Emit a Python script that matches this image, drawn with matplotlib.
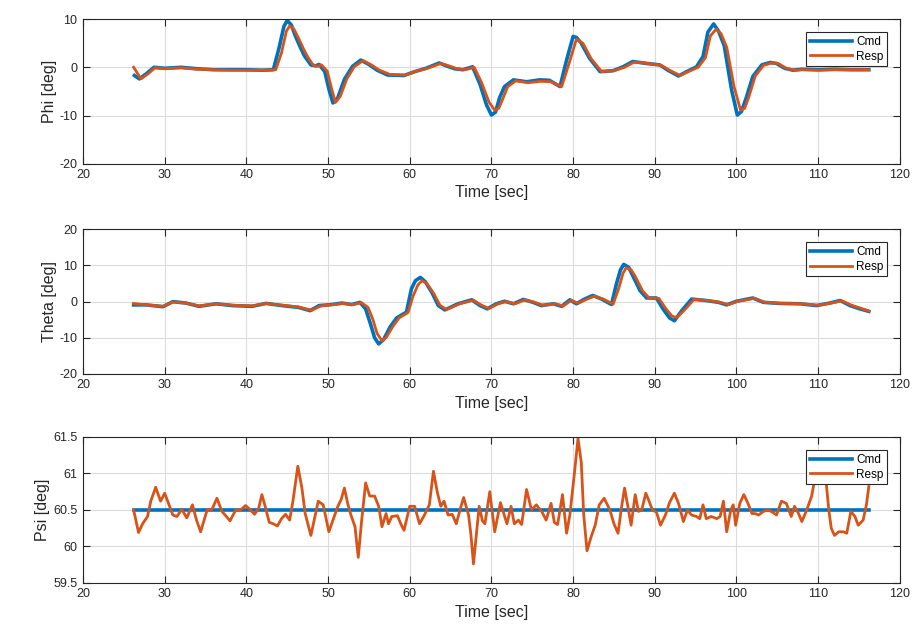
import matplotlib
matplotlib.use('Agg')
import matplotlib.pyplot as plt

plt.rcParams['font.family'] = ['Liberation Sans', 'DejaVu Sans']
plt.rcParams['axes.unicode_minus'] = False

# ---------------------------------------------------------------------------
# Data (time in sec, angles in deg)
# ---------------------------------------------------------------------------

# Phi (roll)
phi_cmd_t = [26.3, 26.9, 27.7, 28.7, 30, 32, 34, 36, 38, 40, 42, 43.3, 44.0, 44.6, 45.0,
             45.5, 46.0, 46.6, 47.1, 47.9, 48.5, 48.9, 49.6, 50.1, 50.6, 51.2, 52.0, 53.0,
             54.0, 55.0, 56.0, 57.3, 59.3, 60.6, 62.0, 63.6, 64.5, 65.5, 66.5, 67.7, 68.6,
             69.4, 70.0, 70.5, 71.0, 71.6, 72.7, 74.3, 75.9, 77.1, 78.4, 79.2, 80.0, 80.4,
             81.0, 82.0, 83.3, 84.9, 86.1, 87.3, 89.0, 90.6, 91.6, 92.9, 93.9, 95.1, 95.9,
             96.5, 97.2, 97.8, 98.5, 99.4, 100.1, 100.6, 101.2, 102.0, 103.1, 104.1, 104.9,
             105.9, 106.9, 108, 110, 112, 114, 116.2]
phi_cmd = [-1.7, -2.4, -1.4, 0, -0.2, 0, -0.3, -0.5, -0.5, -0.5, -0.6, -0.5, 4.0, 8.5, 9.7,
           8.8, 6.5, 4.2, 2.4, 0.5, 0.3, 0.6, -0.9, -4.5, -7.4, -6.3, -2.5, 0.2,
           1.5, 0.6, -0.6, -1.6, -1.7, -0.9, -0.2, 0.9, 0.3, -0.3, -0.5, 0.1, -3.5,
           -7.8, -9.9, -9.3, -6.3, -4.0, -2.6, -3.0, -2.6, -2.7, -4.0, 1.5, 6.4, 6.2,
           5.0, 1.9, -0.9, -0.7, 0.1, 1.2, 0.8, 0.5, -0.6, -1.8, -0.9, 0.1, 2.2,
           7.3, 9.0, 7.5, 4.5, -4.7, -9.9, -9.2, -6.3, -1.9, 0.5, 1.0, 0.8,
           -0.2, -0.6, -0.4, -0.5, -0.4, -0.5, -0.5]

phi_resp_t = [26.2, 27.1, 28.0, 28.8, 30, 32, 34, 36, 38, 40, 42, 43.6, 44.3, 44.9, 45.3,
              45.8, 46.4, 47.0, 47.5, 48.2, 48.8, 49.2, 49.9, 50.4, 50.9, 51.5, 52.3, 53.2,
              54.3, 55.3, 56.3, 57.6, 59.5, 60.8, 62.2, 63.8, 64.8, 65.8, 66.8, 67.9, 68.8,
              69.7, 70.4, 70.9, 71.4, 72.0, 73.0, 74.5, 76.0, 77.3, 78.6, 79.5, 80.4, 81.2,
              82.2, 83.5, 85.0, 86.3, 87.5, 89.2, 90.8, 91.8, 93.1, 94.1, 95.3, 96.2, 96.8,
              97.5, 98.1, 98.8, 99.7, 100.5, 101.0, 101.5, 102.3, 103.3, 104.3, 105.1, 106.1,
              107.1, 108, 110, 112, 114, 116.2]
phi_resp = [0.0, -2.4, -1.3, -0.1, -0.3, -0.1, -0.4, -0.5, -0.6, -0.6, -0.6, -0.5, 3.0, 7.5, 8.6,
            8.0, 6.0, 3.8, 2.2, 0.4, 0.2, 0.5, -0.8, -4.2, -7.3, -6.0, -2.4, 0.1,
            1.4, 0.5, -0.6, -1.5, -1.6, -0.8, -0.2, 0.8, 0.3, -0.3, -0.5, 0.0, -3.2,
            -7.2, -8.9, -8.5, -6.5, -4.0, -2.8, -3.2, -2.9, -3.0, -4.0, 0.8, 5.8, 5.0,
            1.8, -0.9, -0.7, 0.0, 1.1, 0.8, 0.4, -0.6, -1.7, -0.9, 0.0, 2.0, 6.5,
            7.9, 7.0, 4.2, -4.0, -8.9, -8.5, -6.2, -1.8, 0.4, 0.9, 0.8, -0.2,
            -0.6, -0.5, -0.6, -0.5, -0.5, -0.5]

# Theta (pitch)
theta_cmd_t = [26.2, 27.7, 29.8, 31.0, 32.6, 34.2, 36.3, 38.3, 40.7, 42.4, 44.4, 46.4, 47.8,
               48.9, 50.5, 51.7, 52.9, 53.9, 54.6, 55.2, 55.7, 56.2, 56.8, 57.6, 58.4, 59.6,
               60.2, 60.7, 61.3, 61.9, 62.7, 63.5, 64.3, 65.9, 67.6, 68.6, 69.5, 70.6, 71.6,
               72.7, 73.9, 75.1, 76.1, 77.6, 78.6, 79.6, 80.4, 81.4, 82.4, 83.5, 84.7, 85.3,
               85.8, 86.2, 86.8, 87.3, 88.2, 89.0, 90.2, 91.0, 91.8, 92.4, 93.3, 94.5, 96.3,
               97.8, 98.8, 100.0, 102.0, 103.3, 105.3, 107.8, 109.8, 111.4, 112.7, 113.9,
               115.1, 116.2]
theta_cmd = [-0.9, -0.9, -1.4, 0, -0.4, -1.3, -0.6, -1.1, -1.3, -0.5, -1.1, -1.6, -2.5,
             -1.1, -0.8, -0.4, -0.8, -0.2, -2.0, -6.2, -10.0, -11.7, -10.5, -7.0, -4.5, -2.9,
             3.5, 5.8, 6.7, 5.5, 2.6, -1.1, -2.3, -0.6, 0.5, -1.1, -2.0, -0.6, 0.1,
             -0.6, 0.6, -0.2, -1.1, -0.6, -1.3, 0.5, -0.6, 0.7, 1.7, 0.7, -0.8, 4.9,
             8.8, 10.3, 9.5, 7.2, 3.0, 1.0, 1.0, -2.0, -4.5, -5.3, -2.5, 0.7, 0.3,
             -0.2, -0.9, 0.1, 1.0, -0.2, -0.5, -0.6, -1.1, -0.4, 0.3, -1.1,
             -2.0, -2.7]

theta_resp_t = [26.2, 27.7, 29.8, 31.0, 32.6, 34.2, 36.3, 38.3, 40.7, 42.4, 44.4, 46.4, 48.0,
                49.1, 50.7, 51.9, 53.1, 54.1, 54.9, 55.5, 56.0, 56.6, 57.1, 57.9, 58.7, 59.8,
                60.4, 61.0, 61.5, 62.1, 62.9, 63.7, 64.5, 66.1, 67.8, 68.8, 69.7, 70.8, 71.8,
                72.9, 74.1, 75.3, 76.3, 77.8, 78.8, 79.8, 80.6, 81.6, 82.6, 83.7, 84.9, 85.6,
                86.1, 86.5, 87.1, 87.6, 88.5, 89.3, 90.5, 91.3, 92.1, 92.7, 93.6, 94.8, 96.5,
                98.0, 99.0, 100.2, 102.2, 103.5, 105.5, 108.0, 110.0, 111.6, 112.9, 114.1,
                115.3, 116.2]
theta_resp = [-0.5, -0.9, -1.3, -0.1, -0.4, -1.2, -0.6, -1.0, -1.2, -0.5, -1.0, -1.5, -2.4,
              -1.2, -0.8, -0.5, -0.8, -0.3, -1.6, -5.0, -8.8, -10.8, -10.0, -7.0, -4.5, -3.0,
              1.5, 4.6, 5.8, 5.0, 2.4, -1.0, -2.2, -0.6, 0.4, -1.0, -1.9, -0.6, 0.0,
              -0.6, 0.5, -0.2, -1.0, -0.6, -1.2, 0.4, -0.5, 0.6, 1.5, 0.7, -0.7, 3.8,
              7.8, 9.4, 8.8, 7.0, 3.0, 1.0, 0.9, -1.8, -4.0, -4.4, -2.4, 0.6, 0.3,
              -0.2, -0.8, 0.1, 0.9, -0.2, -0.5, -0.6, -1.0, -0.4, 0.2, -1.0,
              -1.9, -2.6]

# Psi (yaw) - command is held constant
psi_cmd_t = [26.2, 116.2]
psi_cmd = [60.5, 60.5]

psi_resp_t = [26.2, 26.8, 27.3, 27.9, 28.3, 28.9, 29.5, 30.0, 30.6, 31.0, 31.5, 32.1, 32.7,
              33.4, 33.9, 34.4, 35.2, 35.8, 36.4, 37.0, 37.4, 38.0, 38.7, 39.3, 39.9, 40.4,
              41.0, 41.5, 41.9, 42.3, 42.8, 43.3, 43.8, 44.3, 44.8, 45.3, 45.7, 46.3, 46.8,
              47.2, 47.9, 48.8, 49.4, 50.1, 50.6, 51.2, 51.6, 52.0, 52.4, 52.8, 53.3, 53.7,
              54.1, 54.6, 55.1, 55.7, 56.2, 56.6, 57.1, 57.4, 57.8, 58.5, 58.9, 59.3, 60.0,
              60.6, 61.2, 61.8, 62.4, 62.9, 63.4, 63.8, 64.2, 64.7, 65.2, 65.7, 66.2, 66.6,
              67.2, 67.5, 67.8, 68.2, 68.5, 68.9, 69.2, 69.8, 70.4, 71.1, 71.9, 72.4, 72.8,
              73.3, 73.7, 74.3, 74.9, 75.5, 76.2, 76.7, 77.3, 77.7, 78.1, 78.7, 79.2, 79.6,
              80.1, 80.6, 81.0, 81.3, 81.7, 82.2, 82.7, 83.2, 83.8, 84.5, 85.0, 85.5, 85.9,
              86.3, 86.7, 87.1, 87.6, 88.0, 88.4, 88.9, 89.3, 89.7, 90.2, 90.7, 91.3, 91.8,
              92.4, 92.9, 93.5, 94.0, 94.5, 95.1, 95.5, 95.9, 96.3, 96.9, 97.6, 98.0, 98.4,
              98.8, 99.3, 99.6, 99.9, 100.4, 100.9, 101.4, 101.9, 102.3, 102.7, 103.3, 103.9,
              104.4, 104.9, 105.5, 106.1, 106.7, 107.1, 107.6, 108.0, 108.6, 109.2, 109.7,
              110.4, 111.0, 111.3, 111.6, 112.0, 112.5, 113.1, 113.5, 114.0, 114.5, 114.9,
              115.5, 115.9, 116.2]
psi_resp = [60.5, 60.19, 60.31, 60.41, 60.62, 60.81, 60.62, 60.73, 60.55, 60.43, 60.41, 60.51, 60.39,
            60.57, 60.36, 60.2, 60.5, 60.51, 60.66, 60.48, 60.43, 60.35, 60.5, 60.5, 60.56, 60.51,
            60.44, 60.52, 60.71, 60.55, 60.33, 60.31, 60.28, 60.38, 60.44, 60.36, 60.62, 61.1, 60.8,
            60.45, 60.15, 60.62, 60.57, 60.2, 60.36, 60.55, 60.64, 60.8, 60.59, 60.43, 60.27, 59.85,
            60.34, 60.87, 60.69, 60.69, 60.55, 60.27, 60.45, 60.31, 60.41, 60.42, 60.31, 60.22, 60.55,
            60.55, 60.31, 60.43, 60.57, 61.03, 60.73, 60.55, 60.62, 60.43, 60.44, 60.31, 60.52, 60.67,
            60.43, 60.15, 59.76, 60.22, 60.55, 60.35, 60.31, 60.75, 60.2, 60.6, 60.31, 60.55, 60.31,
            60.36, 60.3, 60.78, 60.5, 60.57, 60.47, 60.36, 60.59, 60.33, 60.3, 60.71, 60.18, 60.43,
            60.94, 61.48, 61.15, 60.43, 59.94, 60.13, 60.29, 60.57, 60.66, 60.5, 60.31, 60.18, 60.52,
            60.8, 60.55, 60.29, 60.71, 60.48, 60.5, 60.73, 60.62, 60.5, 60.47, 60.29, 60.43, 60.6,
            60.73, 60.59, 60.34, 60.5, 60.43, 60.41, 60.38, 60.57, 60.38, 60.41, 60.38, 60.41, 60.62,
            60.2, 60.5, 60.57, 60.29, 60.59, 60.71, 60.59, 60.45, 60.45, 60.43, 60.48, 60.5,
            60.47, 60.43, 60.62, 60.59, 60.41, 60.55, 60.45, 60.34, 60.5, 60.69, 60.99,
            61.2, 60.85, 60.5, 60.25, 60.15, 60.2, 60.2, 60.18, 60.48, 60.41, 60.29,
            60.36, 60.57, 60.82]

x_ticks = [20, 30, 40, 50, 60, 70, 80, 90, 100, 110, 120]

# ---------------------------------------------------------------------------
# MATLAB-like styling
# ---------------------------------------------------------------------------
CMD_COLOR = '#0072BD'
RESP_COLOR = '#D95319'
AX_COLOR = '#262626'

fig = plt.figure(figsize=(9.22, 6.37), dpi=100)
fig.patch.set_facecolor('white')

rects = [
    [0.090, 0.743, 0.886, 0.227],
    [0.090, 0.413, 0.886, 0.227],
    [0.090, 0.085, 0.886, 0.229],
]

panels = [
    (phi_cmd_t, phi_cmd, phi_resp_t, phi_resp, 'Phi [deg]', (-20, 10), [-20, -10, 0, 10], None),
    (theta_cmd_t, theta_cmd, theta_resp_t, theta_resp, 'Theta [deg]', (-20, 20),
     [-20, -10, 0, 10, 20], None),
    (psi_cmd_t, psi_cmd, psi_resp_t, psi_resp, 'Psi [deg]', (59.5, 61.5),
     [59.5, 60, 60.5, 61, 61.5], ['59.5', '60', '60.5', '61', '61.5']),
]

for rect, (ct, cv, rt, rv, ylab, ylim, yticks, ytl) in zip(rects, panels):
    ax = fig.add_axes(rect)
    ax.plot(ct, cv, color=CMD_COLOR, linewidth=2.6, label='Cmd',
            solid_joinstyle='round')
    ax.plot(rt, rv, color=RESP_COLOR, linewidth=2.0, label='Resp',
            solid_joinstyle='round')

    ax.set_xlim(20, 120)
    ax.set_ylim(*ylim)
    ax.set_xticks(x_ticks)
    ax.set_yticks(yticks)
    if ytl is not None:
        ax.set_yticklabels(ytl)

    ax.grid(True, color='#dcdcdc', linewidth=0.8)
    ax.set_axisbelow(True)
    ax.tick_params(direction='in', length=5, width=0.8, top=True, right=True,
                   labelsize=9, colors=AX_COLOR, pad=4)
    for sp in ax.spines.values():
        sp.set_color(AX_COLOR)
        sp.set_linewidth(0.8)

    ax.set_xlabel('Time [sec]', fontsize=11.5, color=AX_COLOR, labelpad=3)
    ax.set_ylabel(ylab, fontsize=11.5, color=AX_COLOR, labelpad=2)

    leg = ax.legend(loc='upper right', bbox_to_anchor=(0.984, 0.91), borderaxespad=0,
                    fontsize=8.5, handlelength=3.6, handletextpad=0.3,
                    labelspacing=0.25, borderpad=0.3, fancybox=False, framealpha=1)
    leg.get_frame().set_edgecolor(AX_COLOR)
    leg.get_frame().set_linewidth(0.8)

plt.savefig('out.png', dpi=100, facecolor='white')
